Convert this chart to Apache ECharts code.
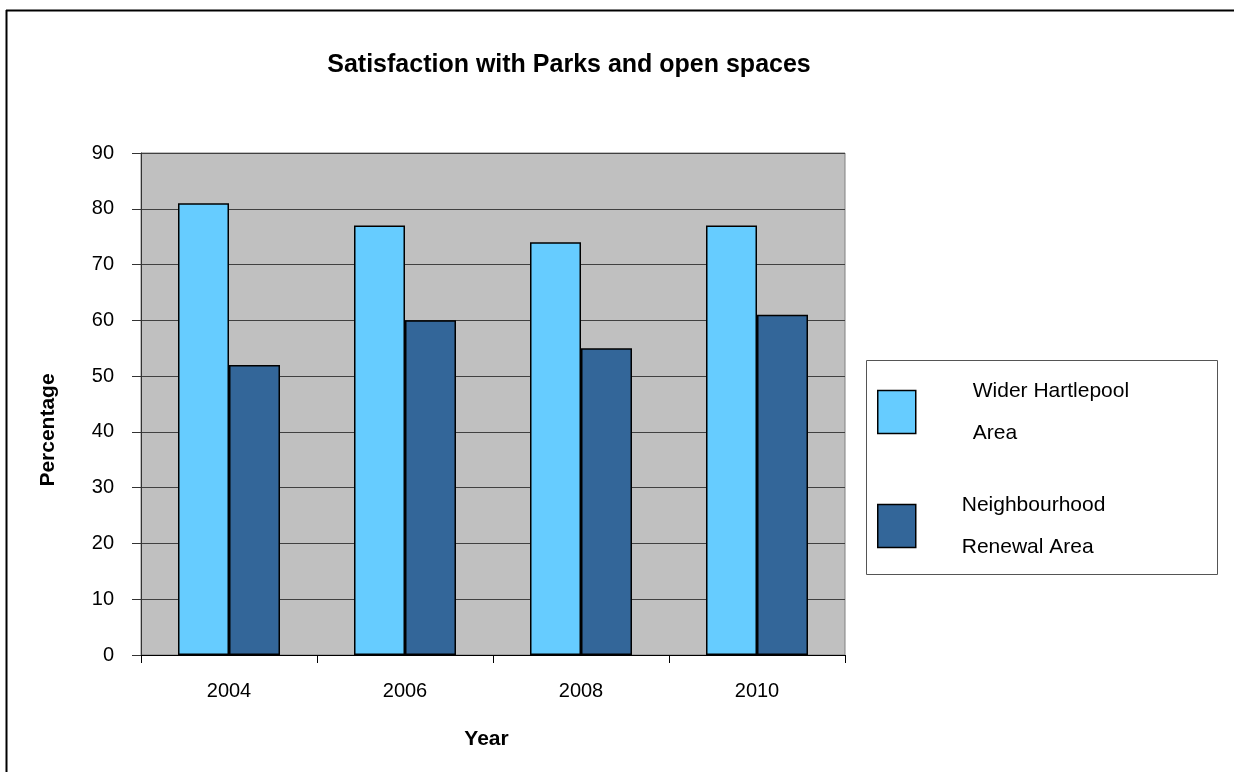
<!DOCTYPE html>
<html>
<head>
<meta charset="utf-8">
<title>Satisfaction with Parks and open spaces</title>
<script src="https://cdn.jsdelivr.net/npm/echarts@6/dist/echarts.min.js"></script>
<style>
  html, body { margin: 0; padding: 0; background: #ffffff; }
  #chart { width: 1234px; height: 772px; }
</style>
</head>
<body>
<div id="chart"></div>
<script>
// Survey years on the category axis
const years = ['2004', '2006', '2008', '2010'];
// Percentage satisfied, per area
const widerHartlepool = [81, 77, 74, 77];
const neighbourhoodRenewal = [52, 60, 55, 61];
// Value axis range
const yMin = 0;
const yMax = 90;
const yStep = 10;

const FONT = '"Liberation Sans", Arial, sans-serif';
const chart = echarts.init(document.getElementById('chart'), null, { renderer: 'canvas' });

chart.setOption({
  backgroundColor: '#ffffff',
  animation: false,
  textStyle: { fontFamily: FONT, color: '#000' },
  title: {
    text: 'Satisfaction with Parks and open spaces',
    left: 564,
    textAlign: 'center',
    top: 48,
    textStyle: { fontFamily: FONT, fontSize: 25, fontWeight: 'bold', color: '#000' }
  },
  graphic: [
    // outer frame (left and top edges)
    { type: 'line', shape: { x1: 6.5, y1: 10, x2: 6.5, y2: 772 }, style: { stroke: '#000', lineWidth: 2 } },
    { type: 'line', shape: { x1: 6, y1: 10.5, x2: 1234, y2: 10.5 }, style: { stroke: '#000', lineWidth: 2 } },
    // legend frame
    { type: 'rect', shape: { x: 866.5, y: 360.5, width: 351, height: 214 }, style: { fill: 'none', stroke: '#555', lineWidth: 1 }, z: 1 }
  ],
  legend: {
    orient: 'vertical',
    left: 872,
    top: 360,
    itemWidth: 38,
    itemHeight: 43,
    itemGap: 20,
    icon: 'rect',
    itemStyle: { borderColor: '#000', borderWidth: 1.5 },
    textStyle: { fontFamily: FONT, fontSize: 21, lineHeight: 42, color: '#000' },
    data: [
      { name: 'Wider Hartlepool Area', textStyle: { padding: [10, 0, 0, 52] } },
      { name: 'Neighbourhood Renewal Area', textStyle: { padding: [10, 0, 0, 41] } }
    ],
    formatter: function (name) {
      return name === 'Wider Hartlepool Area' ? 'Wider Hartlepool\nArea' : 'Neighbourhood\nRenewal Area';
    }
  },
  grid: {
    left: 141,
    top: 153,
    right: 389,
    bottom: 117,
    show: true,
    backgroundColor: '#C0C0C0',
    borderColor: '#808080',
    borderWidth: 1
  },
  xAxis: {
    type: 'category',
    data: years,
    name: 'Year',
    nameLocation: 'middle',
    nameGap: 74,
    nameTextStyle: { fontFamily: FONT, fontSize: 21, fontWeight: 'bold', color: '#000', padding: [0, 13, 0, 0] },
    axisLine: { lineStyle: { color: '#000', width: 1 } },
    axisTick: { show: true, length: 8, lineStyle: { color: '#000' } },
    axisLabel: { fontFamily: FONT, fontSize: 20, color: '#000', margin: 26 },
    splitLine: { show: false }
  },
  yAxis: {
    type: 'value',
    min: yMin,
    max: yMax,
    interval: yStep,
    name: 'Percentage',
    nameLocation: 'middle',
    nameGap: 82,
    nameRotate: 90,
    nameTextStyle: { fontFamily: FONT, fontSize: 21, fontWeight: 'bold', color: '#000', padding: [0, 52, 0, 0] },
    axisLine: { show: true, lineStyle: { color: '#333', width: 1 } },
    axisTick: { show: true, length: 9, lineStyle: { color: '#333' } },
    axisLabel: { fontFamily: FONT, fontSize: 20, color: '#000', margin: 27 },
    splitLine: { show: true, lineStyle: { color: '#404040', width: 1 } }
  },
  series: [
    {
      name: 'Wider Hartlepool Area',
      type: 'bar',
      data: widerHartlepool,
      barWidth: 51,
      barGap: '0%',
      itemStyle: { color: '#66CCFF', borderColor: '#000', borderWidth: 1.5 }
    },
    {
      name: 'Neighbourhood Renewal Area',
      type: 'bar',
      data: neighbourhoodRenewal,
      barWidth: 51,
      barGap: '0%',
      itemStyle: { color: '#336699', borderColor: '#000', borderWidth: 1.5 }
    }
  ]
});
</script>
</body>
</html>
